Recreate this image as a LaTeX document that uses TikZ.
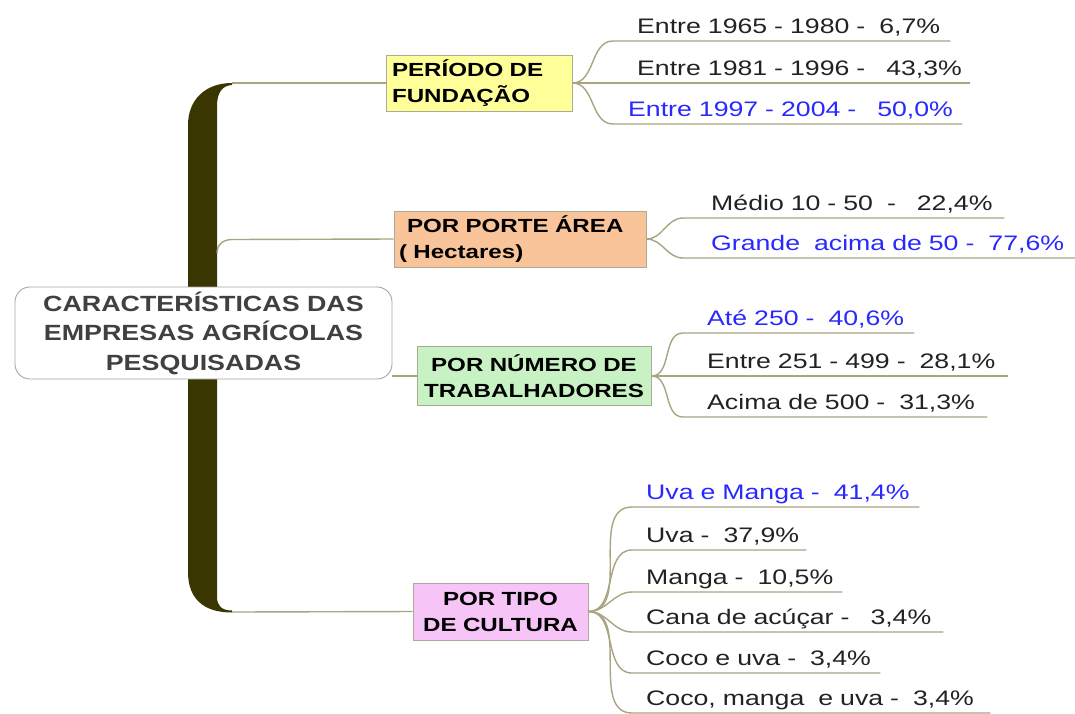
\documentclass[tikz,border=0pt]{standalone}
\usepackage{fontspec}
\setmainfont{Liberation Sans}[FakeStretch=1.27]
\newfontfamily\rootfont{Liberation Sans}[FakeStretch=1.22]
\definecolor{trunkcol}{RGB}{58,54,2}
\definecolor{linecol}{RGB}{168,165,128}
\definecolor{leafcol}{RGB}{34,34,34}
\definecolor{bluecol}{RGB}{40,40,255}
\definecolor{rootcol}{RGB}{64,64,64}
\definecolor{boxborder}{RGB}{170,170,150}
\definecolor{yellowfill}{RGB}{255,255,153}
\definecolor{orangefill}{RGB}{249,196,153}
\definecolor{greenfill}{RGB}{200,242,196}
\definecolor{pinkfill}{RGB}{246,196,246}
\tikzset{
  catbox/.style={draw=boxborder, line width=0.8pt, inner ysep=0pt,
    font=\fontsize{19}{26}\selectfont\bfseries, text=black},
  rootbox/.style={draw=gray!70, line width=0.9pt, fill=white, rounded corners=15pt,
    minimum width=377pt, minimum height=92pt, inner sep=0pt, align=center,
    font=\rootfont\fontsize{22}{29.5}\selectfont\bfseries, text=rootcol},
  leaf/.style={anchor=south west, inner xsep=0pt, inner ysep=0pt,
    text height=15pt, text depth=7.5pt, align=left,
    font=\fontsize{21}{25}\selectfont, text=leafcol},
  blueleaf/.style={leaf, text=bluecol},
  link/.style={draw=linecol, line width=1.4pt},
}
\begin{document}
\begin{tikzpicture}[x=1pt,y=-1pt]
\useasboundingbox (0,0) rectangle (1075,713);

% trunk
\coordinate (ttop) at (232,83);
\coordinate (tb2) at (217,253);
\coordinate (tbot) at (232,612);
\fill[trunkcol] (188,572) -- (188,125) .. controls (188,100) and (205,83) .. (232,83)
  -- (232,85) .. controls (222,85.5) and (217,93) .. (217,106)
  -- (217,597) .. controls (217,606) and (222,610.5) .. (232,610.5)
  -- (232,612.5) .. controls (205,612.5) and (188,600) .. (188,572) -- cycle;

% category boxes
\node[catbox, fill=yellowfill, minimum width=186pt, minimum height=56pt,
  text width=174pt, inner xsep=6pt, align=left] (yel) at (479,83)
  {PERÍODO DE\\FUNDAÇÃO};
\node[catbox, fill=orangefill, minimum width=252pt, minimum height=56pt,
  text width=242pt, inner xsep=5pt, align=left] (ora) at (520,239)
  {\hspace*{8pt}POR PORTE ÁREA\\( Hectares)};
\node[catbox, fill=greenfill, minimum width=234pt, minimum height=59pt,
  text width=230pt, inner xsep=2pt, align=center] (gre) at (534,376)
  {POR NÚMERO DE\\TRABALHADORES};
\node[catbox, fill=pinkfill, minimum width=175pt, minimum height=57pt,
  text width=170pt, inner xsep=2pt, align=center] (pin) at (500.5,611.5)
  {POR TIPO\\DE CULTURA};

% trunk branches
\draw[link] (ttop) -- (yel.west);
\draw[link] (tb2) .. controls +(0,-9) and +(-8,0) .. (232,239.5) -- (ora.west);
\draw[link] (tbot) -- (pin.west);

% root
\node[rootbox] (root) at (203.5,333)
  {CARACTERÍSTICAS DAS\\EMPRESAS AGRÍCOLAS\\PESQUISADAS};
\draw[link] (root.east |- gre.west) -- (gre.west);

% group 1
\node[leaf, text width=337pt] (l1) at (613,41) {\hspace*{24pt}Entre 1965 - 1980 -~ 6,7\%};
\node[leaf, text width=357pt] (l2) at (613,83) {\hspace*{24pt}Entre 1981 - 1996 -~~ 43,3\%};
\node[blueleaf, text width=349pt] (l3) at (613,124) {\hspace*{15pt}Entre 1997 - 2004 -~~ 50,0\%};
\foreach \l in {l1,l2,l3}
  \draw[link] (yel.east) to[out=0,in=180] (\l.south west) -- (\l.south east);

% group 2
\node[leaf, text width=321pt] (l4) at (683,218) {\hspace*{28pt}Médio 10 - 50~ -~~ 22,4\%};
\node[blueleaf, text width=392pt] (l5) at (683,258) {\hspace*{28pt}Grande~ acima de 50 -~ 77,6\%};
\foreach \l in {l4,l5}
  \draw[link] (ora.east) to[out=0,in=180] (\l.south west) -- (\l.south east);

% group 3
\node[blueleaf, text width=231pt] (l6) at (683,333) {\hspace*{24pt}Até 250 -~ 40,6\%};
\node[leaf, text width=325pt] (l7) at (683,376) {\hspace*{24pt}Entre 251 - 499 -~ 28,1\%};
\node[leaf, text width=304pt] (l8) at (683,417) {\hspace*{24pt}Acima de 500 -~ 31,3\%};
\foreach \l in {l6,l7,l8}
  \draw[link] (gre.east) to[out=0,in=180] (\l.south west) -- (\l.south east);

% group 4
\node[blueleaf, text width=287pt] (l9) at (632,507) {\hspace*{14pt}Uva e Manga -~ 41,4\%};
\node[leaf, text width=174pt] (l10) at (632,550) {\hspace*{14pt}Uva -~ 37,9\%};
\node[leaf, text width=210pt] (l11) at (632,592) {\hspace*{14pt}Manga -~ 10,5\%};
\node[leaf, text width=311pt] (l12) at (632,632) {\hspace*{14pt}Cana de acúçar -~~ 3,4\%};
\node[leaf, text width=248pt] (l13) at (632,673) {\hspace*{14pt}Coco e uva -~ 3,4\%};
\node[leaf, text width=358pt] (l14) at (632,713) {\hspace*{14pt}Coco, manga~ e uva -~ 3,4\%};
\foreach \l in {l9,l10,l11,l12,l13,l14}
  \draw[link] (pin.east) to[out=0,in=180] (\l.south west) -- (\l.south east);
\end{tikzpicture}
\end{document}
